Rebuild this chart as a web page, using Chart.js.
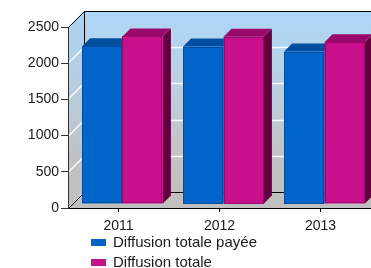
<!DOCTYPE html>
<html>
<head>
<meta charset="utf-8">
<script src="https://cdn.jsdelivr.net/npm/chart.js@4"></script>
<style>
html, body { margin: 0; padding: 0; background: #fff; }
</style>
</head>
<body>
<canvas id="chart" width="371" height="268"></canvas>
<script>
// data
const years = ['2011', '2012', '2013'];
const paidCirculation = [2180, 2175, 2105];
const totalCirculation = [2315, 2310, 2235];
const seriesNames = ['Diffusion totale payée', 'Diffusion totale'];
const yTicks = [0, 500, 1000, 1500, 2000, 2500];

// look of the 3d box
const WALL_DEPTH = 16;
const BAR_SHIFT = 4;
const BAR_DEPTH = 8;
const TICK_FONT = { family: 'Liberation Sans', size: 14 };
const LEGEND_FONT = '15px "Liberation Sans"';

const frontColors = ['#0064c8', '#c80f8c'];
const topColors = ['#004ea0', '#9a0a6c'];
const sideColors = ['#003670', '#62003f'];

// walls, floor and white grid lines, drawn before the scales
const walls3d = {
    id: 'walls3d',
    beforeDraw: function(chart) {
        const ctx = chart.ctx;
        const a = chart.chartArea;
        const y = chart.scales.y;
        const d = WALL_DEPTH;
        ctx.save();

        // back wall
        let g = ctx.createLinearGradient(0, a.top - d, 0, a.bottom - d);
        g.addColorStop(0, '#acd7f8');
        g.addColorStop(0.45, '#bccfe0');
        g.addColorStop(0.75, '#c2c4c6');
        g.addColorStop(1, '#c0c0c0');
        ctx.fillStyle = g;
        ctx.fillRect(a.left + d, a.top - d, a.right - a.left, a.bottom - a.top);

        // left wall
        g = ctx.createLinearGradient(0, a.top - d, 0, a.bottom);
        g.addColorStop(0, '#aad4f4');
        g.addColorStop(0.45, '#bacbdb');
        g.addColorStop(0.75, '#c0c2c4');
        g.addColorStop(1, '#c0c0c0');
        ctx.fillStyle = g;
        ctx.beginPath();
        ctx.moveTo(a.left, a.top);
        ctx.lineTo(a.left + d, a.top - d);
        ctx.lineTo(a.left + d, a.bottom - d);
        ctx.lineTo(a.left, a.bottom);
        ctx.closePath();
        ctx.fill();

        // floor
        ctx.fillStyle = '#c0c0c0';
        ctx.beginPath();
        ctx.moveTo(a.left, a.bottom);
        ctx.lineTo(a.left + d, a.bottom - d);
        ctx.lineTo(a.right + d, a.bottom - d);
        ctx.lineTo(a.right, a.bottom);
        ctx.closePath();
        ctx.fill();

        // grid lines
        ctx.strokeStyle = 'rgba(255,255,255,0.9)';
        ctx.lineWidth = 1.5;
        y.ticks.forEach(t => {
            if (t.value <= y.min || t.value >= y.max) return;
            const py = Math.round(y.getPixelForValue(t.value)) + 0.5;
            ctx.beginPath();
            ctx.moveTo(a.left, py);
            ctx.lineTo(a.left + d, py - d);
            ctx.lineTo(a.right + d, py - d);
            ctx.stroke();
        });

        // box edges
        ctx.strokeStyle = '#000';
        ctx.lineWidth = 1;
        ctx.beginPath();
        ctx.moveTo(a.left + 0.5, a.top + 0.5);
        ctx.lineTo(a.left + d + 0.5, a.top - d + 0.5);
        ctx.lineTo(a.right + d, a.top - d + 0.5);
        ctx.moveTo(a.left + d + 0.5, a.top - d + 0.5);
        ctx.lineTo(a.left + d + 0.5, a.bottom - d + 0.5);
        ctx.lineTo(a.right + d, a.bottom - d + 0.5);
        ctx.moveTo(a.left + 0.5, a.bottom + 0.5);
        ctx.lineTo(a.left + d + 0.5, a.bottom - d + 0.5);
        ctx.stroke();
        ctx.restore();
    }
};

// bars as boxes, placed from the bar elements the library computed
const bars3d = {
    id: 'bars3d',
    beforeDatasetsDraw: function(chart) {
        const ctx = chart.ctx;
        ctx.save();
        chart.data.datasets.forEach((ds, i) => {
            const meta = chart.getDatasetMeta(i);
            meta.data.forEach(bar => {
                const p = bar.getProps(['x', 'y', 'base', 'width'], true);
                const x0 = p.x - p.width / 2 + BAR_SHIFT;
                const x1 = p.x + p.width / 2 + BAR_SHIFT;
                const yt = p.y - BAR_SHIFT;
                const yb = p.base - BAR_SHIFT;
                const k = BAR_DEPTH;

                // side
                ctx.fillStyle = ds.sideColor;
                ctx.beginPath();
                ctx.moveTo(x1, yt);
                ctx.lineTo(x1 + k, yt - k);
                ctx.lineTo(x1 + k, yb - k);
                ctx.lineTo(x1, yb);
                ctx.closePath();
                ctx.fill();

                // top
                ctx.fillStyle = ds.topColor;
                ctx.beginPath();
                ctx.moveTo(x0, yt);
                ctx.lineTo(x0 + k, yt - k);
                ctx.lineTo(x1 + k, yt - k);
                ctx.lineTo(x1, yt);
                ctx.closePath();
                ctx.fill();

                // front
                ctx.fillStyle = ds.backgroundColor;
                ctx.fillRect(x0, yt, x1 - x0, yb - yt);
                ctx.strokeStyle = ds.topColor;
                ctx.lineWidth = 1;
                ctx.strokeRect(Math.round(x0) + 0.5, Math.round(yt) + 0.5, Math.round(x1 - x0) - 1, Math.round(yb - yt) - 1);
            });
        });
        ctx.restore();
        return false;
    }
};

// legend stacked in a column under the axis
const columnLegend = {
    id: 'columnLegend',
    afterDraw: function(chart) {
        const ctx = chart.ctx;
        ctx.save();
        ctx.font = LEGEND_FONT;
        ctx.textBaseline = 'middle';
        chart.data.datasets.forEach((ds, i) => {
            const cy = 243 + i * 20;
            ctx.fillStyle = ds.backgroundColor;
            ctx.fillRect(91, cy - 4, 15, 7);
            ctx.fillStyle = '#1a1a1a';
            ctx.fillText(ds.label, 113, cy);
        });
        ctx.restore();
    }
};

new Chart(document.getElementById('chart'), {
    type: 'bar',
    data: {
        labels: years,
        datasets: [
            {
                label: seriesNames[0],
                data: paidCirculation,
                backgroundColor: frontColors[0],
                topColor: topColors[0],
                sideColor: sideColors[0]
            },
            {
                label: seriesNames[1],
                data: totalCirculation,
                backgroundColor: frontColors[1],
                topColor: topColors[1],
                sideColor: sideColors[1]
            }
        ]
    },
    options: {
        responsive: false,
        animation: false,
        events: [],
        categoryPercentage: 0.8,
        barPercentage: 1,
        layout: {
            padding: { top: 27, right: 0, bottom: 0, left: 0 }
        },
        plugins: {
            legend: { display: false },
            title: { display: false },
            tooltip: { enabled: false }
        },
        scales: {
            x: {
                afterFit: s => { s.height = 60; },
                grid: {
                    offset: false,
                    drawOnChartArea: false,
                    tickLength: 4,
                    color: '#000'
                },
                border: { color: '#000' },
                ticks: {
                    padding: 6,
                    color: '#1a1a1a',
                    font: TICK_FONT
                }
            },
            y: {
                min: 0,
                max: 2500,
                afterFit: s => { s.width = 68; },
                afterBuildTicks: s => { s.ticks = yTicks.map(v => ({ value: v })); },
                grid: {
                    drawOnChartArea: false,
                    tickLength: 7,
                    color: '#333'
                },
                border: { color: '#333' },
                ticks: {
                    padding: 2,
                    color: '#1a1a1a',
                    font: TICK_FONT,
                    callback: v => String(v)
                }
            }
        }
    },
    plugins: [walls3d, bars3d, columnLegend]
});
</script>
</body>
</html>
